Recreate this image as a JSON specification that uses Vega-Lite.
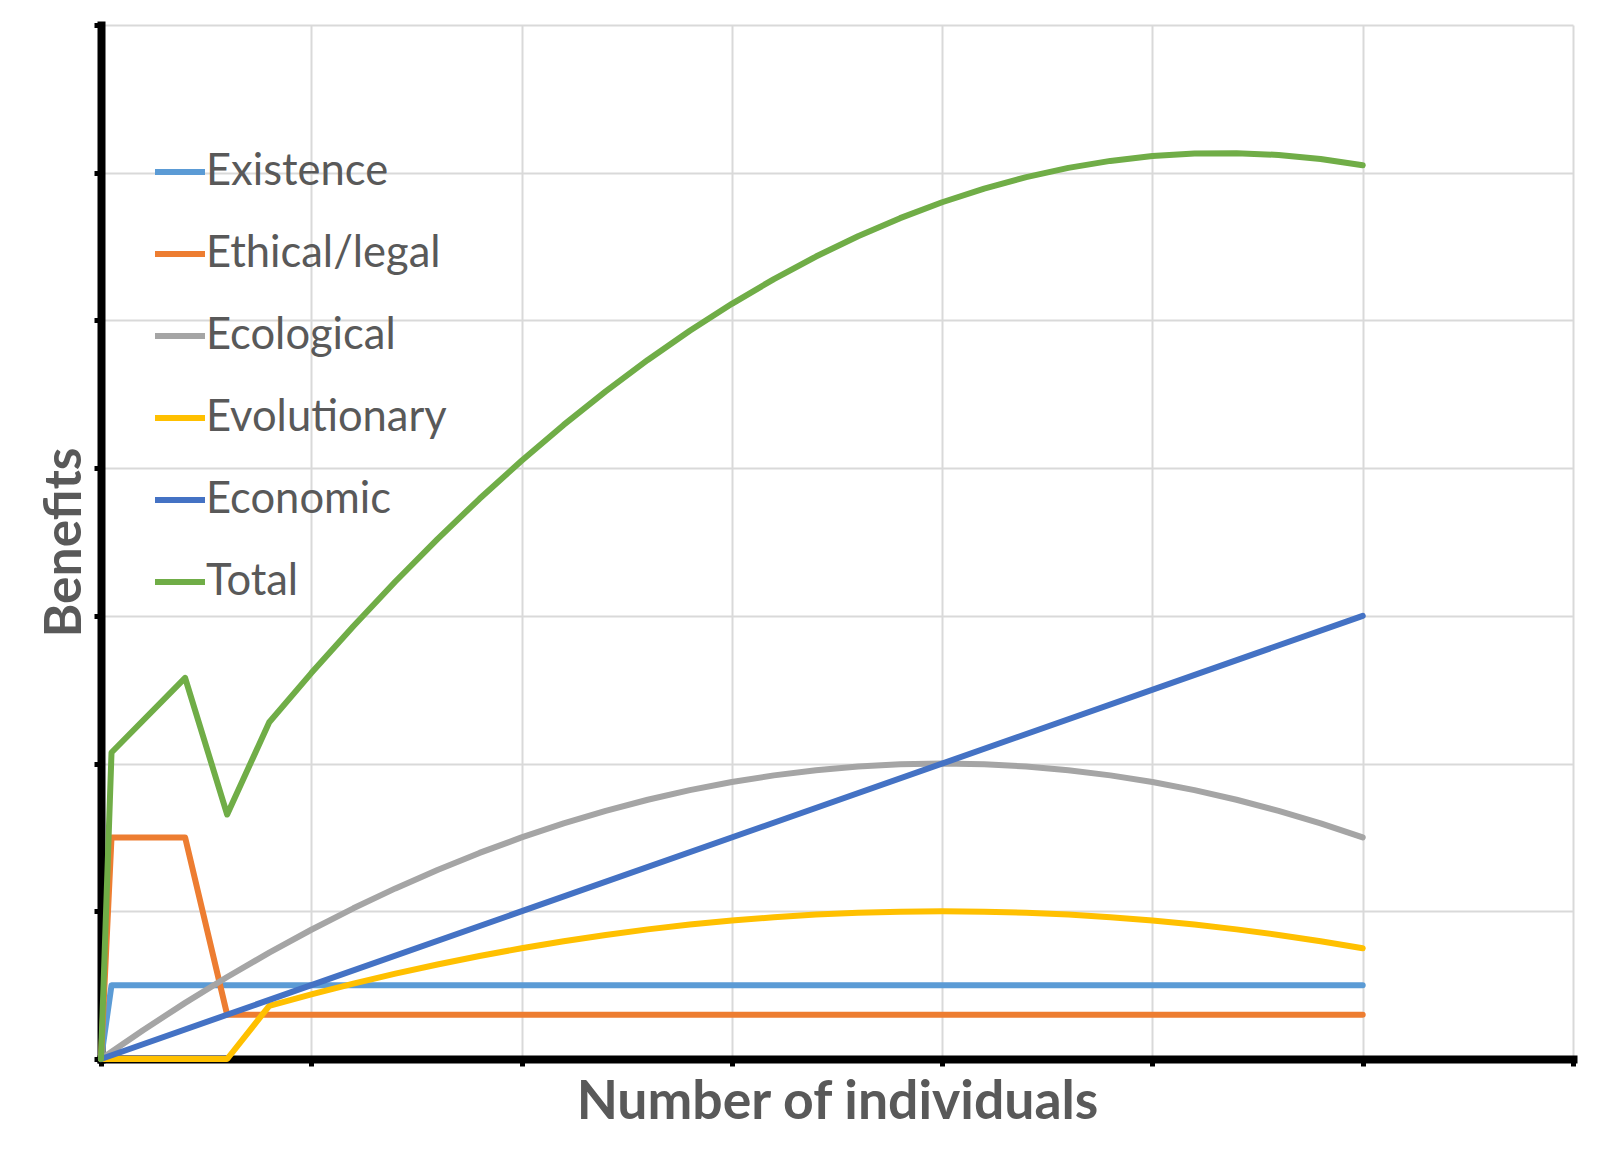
{
  "$schema": "https://vega.github.io/schema/vega-lite/v6.json",
  "width": 1472,
  "height": 1034,
  "autosize": {"type": "none"},
  "padding": {"left": 101, "top": 25, "right": 26, "bottom": 102},
  "background": "white",
  "config": {
    "view": {"stroke": null},
    "font": "Lato"
  },
  "data": {
    "values": [
      {"s": "Existence", "x": 0, "y": 0},
      {"s": "Existence", "x": 0.05, "y": 0.5},
      {"s": "Existence", "x": 6, "y": 0.5},
      {"s": "Ethical/legal", "x": 0, "y": 0},
      {"s": "Ethical/legal", "x": 0.05, "y": 1.5},
      {"s": "Ethical/legal", "x": 0.4, "y": 1.5},
      {"s": "Ethical/legal", "x": 0.6, "y": 0.3},
      {"s": "Ethical/legal", "x": 6, "y": 0.3},
      {"s": "Ecological", "x": 0, "y": 0},
      {"s": "Ecological", "x": 0.2, "y": 0.195},
      {"s": "Ecological", "x": 0.4, "y": 0.38},
      {"s": "Ecological", "x": 0.6, "y": 0.555},
      {"s": "Ecological", "x": 0.8, "y": 0.72},
      {"s": "Ecological", "x": 1.0, "y": 0.875},
      {"s": "Ecological", "x": 1.2, "y": 1.02},
      {"s": "Ecological", "x": 1.4, "y": 1.155},
      {"s": "Ecological", "x": 1.6, "y": 1.28},
      {"s": "Ecological", "x": 1.8, "y": 1.395},
      {"s": "Ecological", "x": 2.0, "y": 1.5},
      {"s": "Ecological", "x": 2.2, "y": 1.595},
      {"s": "Ecological", "x": 2.4, "y": 1.68},
      {"s": "Ecological", "x": 2.6, "y": 1.755},
      {"s": "Ecological", "x": 2.8, "y": 1.82},
      {"s": "Ecological", "x": 3.0, "y": 1.875},
      {"s": "Ecological", "x": 3.2, "y": 1.92},
      {"s": "Ecological", "x": 3.4, "y": 1.955},
      {"s": "Ecological", "x": 3.6, "y": 1.98},
      {"s": "Ecological", "x": 3.8, "y": 1.995},
      {"s": "Ecological", "x": 4.0, "y": 2.0},
      {"s": "Ecological", "x": 4.2, "y": 1.995},
      {"s": "Ecological", "x": 4.4, "y": 1.98},
      {"s": "Ecological", "x": 4.6, "y": 1.955},
      {"s": "Ecological", "x": 4.8, "y": 1.92},
      {"s": "Ecological", "x": 5.0, "y": 1.875},
      {"s": "Ecological", "x": 5.2, "y": 1.82},
      {"s": "Ecological", "x": 5.4, "y": 1.755},
      {"s": "Ecological", "x": 5.6, "y": 1.68},
      {"s": "Ecological", "x": 5.8, "y": 1.595},
      {"s": "Ecological", "x": 6.0, "y": 1.5},
      {"s": "Evolutionary", "x": 0, "y": 0},
      {"s": "Evolutionary", "x": 0.6, "y": 0},
      {"s": "Evolutionary", "x": 0.8, "y": 0.36},
      {"s": "Evolutionary", "x": 1.0, "y": 0.4375},
      {"s": "Evolutionary", "x": 1.2, "y": 0.51},
      {"s": "Evolutionary", "x": 1.4, "y": 0.5775},
      {"s": "Evolutionary", "x": 1.6, "y": 0.64},
      {"s": "Evolutionary", "x": 1.8, "y": 0.6975},
      {"s": "Evolutionary", "x": 2.0, "y": 0.75},
      {"s": "Evolutionary", "x": 2.2, "y": 0.7975},
      {"s": "Evolutionary", "x": 2.4, "y": 0.84},
      {"s": "Evolutionary", "x": 2.6, "y": 0.8775},
      {"s": "Evolutionary", "x": 2.8, "y": 0.91},
      {"s": "Evolutionary", "x": 3.0, "y": 0.9375},
      {"s": "Evolutionary", "x": 3.2, "y": 0.96},
      {"s": "Evolutionary", "x": 3.4, "y": 0.9775},
      {"s": "Evolutionary", "x": 3.6, "y": 0.99},
      {"s": "Evolutionary", "x": 3.8, "y": 0.9975},
      {"s": "Evolutionary", "x": 4.0, "y": 1.0},
      {"s": "Evolutionary", "x": 4.2, "y": 0.9975},
      {"s": "Evolutionary", "x": 4.4, "y": 0.99},
      {"s": "Evolutionary", "x": 4.6, "y": 0.9775},
      {"s": "Evolutionary", "x": 4.8, "y": 0.96},
      {"s": "Evolutionary", "x": 5.0, "y": 0.9375},
      {"s": "Evolutionary", "x": 5.2, "y": 0.91},
      {"s": "Evolutionary", "x": 5.4, "y": 0.8775},
      {"s": "Evolutionary", "x": 5.6, "y": 0.84},
      {"s": "Evolutionary", "x": 5.8, "y": 0.7975},
      {"s": "Evolutionary", "x": 6.0, "y": 0.75},
      {"s": "Economic", "x": 0, "y": 0},
      {"s": "Economic", "x": 6, "y": 3},
      {"s": "Total", "x": 0, "y": 0},
      {"s": "Total", "x": 0.05, "y": 2.075},
      {"s": "Total", "x": 0.4, "y": 2.58},
      {"s": "Total", "x": 0.6, "y": 1.655},
      {"s": "Total", "x": 0.8, "y": 2.28},
      {"s": "Total", "x": 1.0, "y": 2.6125},
      {"s": "Total", "x": 1.2, "y": 2.93},
      {"s": "Total", "x": 1.4, "y": 3.2325},
      {"s": "Total", "x": 1.6, "y": 3.52},
      {"s": "Total", "x": 1.8, "y": 3.7925},
      {"s": "Total", "x": 2.0, "y": 4.05},
      {"s": "Total", "x": 2.2, "y": 4.2925},
      {"s": "Total", "x": 2.4, "y": 4.52},
      {"s": "Total", "x": 2.6, "y": 4.7325},
      {"s": "Total", "x": 2.8, "y": 4.93},
      {"s": "Total", "x": 3.0, "y": 5.1125},
      {"s": "Total", "x": 3.2, "y": 5.28},
      {"s": "Total", "x": 3.4, "y": 5.4325},
      {"s": "Total", "x": 3.6, "y": 5.57},
      {"s": "Total", "x": 3.8, "y": 5.6925},
      {"s": "Total", "x": 4.0, "y": 5.8},
      {"s": "Total", "x": 4.2, "y": 5.8925},
      {"s": "Total", "x": 4.4, "y": 5.97},
      {"s": "Total", "x": 4.6, "y": 6.0325},
      {"s": "Total", "x": 4.8, "y": 6.08},
      {"s": "Total", "x": 5.0, "y": 6.1125},
      {"s": "Total", "x": 5.2, "y": 6.13},
      {"s": "Total", "x": 5.4, "y": 6.1325},
      {"s": "Total", "x": 5.6, "y": 6.12},
      {"s": "Total", "x": 5.8, "y": 6.0925},
      {"s": "Total", "x": 6.0, "y": 6.05}
    ]
  },
  "mark": {"type": "line", "strokeWidth": 6, "strokeCap": "round", "strokeJoin": "round", "clip": false},
  "encoding": {
    "x": {
      "field": "x", "type": "quantitative",
      "scale": {"domain": [0, 7], "nice": false, "zero": true},
      "axis": {
        "title": "Number of individuals",
        "values": [0, 1, 2, 3, 4, 5, 6, 7],
        "labels": false,
        "grid": true, "gridColor": "#D9D9D9", "gridWidth": 2,
        "domainColor": "black", "domainWidth": 8, "domainCap": "square",
        "ticks": true, "tickColor": "black", "tickSize": 7, "tickWidth": 5,
        "titleFont": "Lato", "titleFontSize": 53.5, "titleFontWeight": "bold", "titleColor": "#595959",
        "titleBaseline": "alphabetic", "titlePadding": 50
      }
    },
    "y": {
      "field": "y", "type": "quantitative",
      "scale": {"domain": [0, 7], "nice": false, "zero": true},
      "axis": {
        "title": "Benefits",
        "values": [0, 1, 2, 3, 4, 5, 6, 7],
        "labels": false,
        "grid": true, "gridColor": "#D9D9D9", "gridWidth": 2,
        "domainColor": "black", "domainWidth": 8, "domainCap": "square",
        "ticks": true, "tickColor": "black", "tickSize": 7, "tickWidth": 5,
        "titleFont": "Lato", "titleFontSize": 51.5, "titleFontWeight": "bold", "titleColor": "#595959",
        "titleBaseline": "alphabetic", "titlePadding": 11
      }
    },
    "color": {
      "field": "s", "type": "nominal",
      "scale": {
        "domain": ["Existence", "Ethical/legal", "Ecological", "Evolutionary", "Economic", "Total"],
        "range": ["#5B9BD5", "#ED7D31", "#A5A5A5", "#FFC000", "#4472C4", "#70AD47"]
      },
      "legend": {
        "title": null,
        "orient": "none",
        "legendX": 51,
        "legendY": 119,
        "padding": 0,
        "symbolType": "stroke",
        "symbolSize": 2500,
        "symbolStrokeWidth": 6,
        "labelFont": "Lato",
        "labelFontSize": 43.5,
        "labelColor": "#595959",
        "labelOffset": -2,
        "labelLimit": 0,
        "rowPadding": 32
      }
    }
  }
}
